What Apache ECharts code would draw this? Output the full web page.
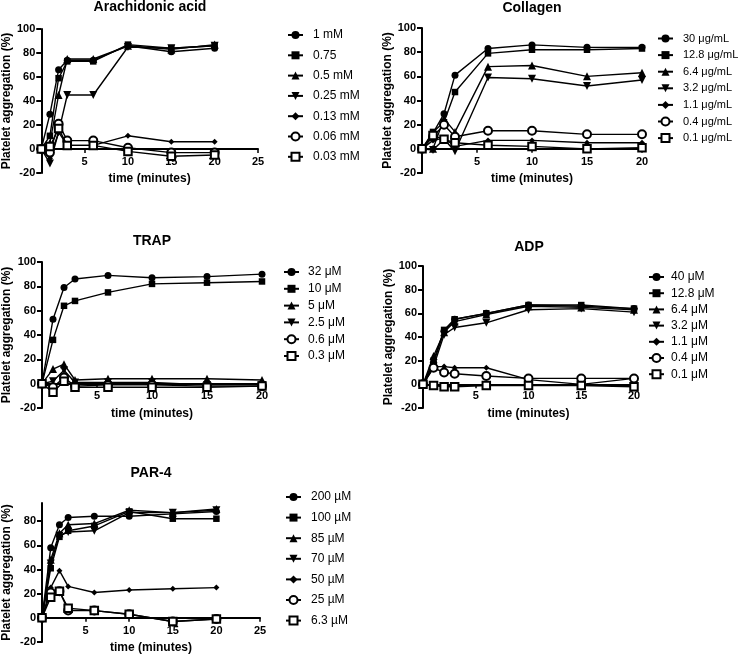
<!DOCTYPE html>
<html><head><meta charset="utf-8">
<script src="https://cdn.jsdelivr.net/npm/echarts@6/dist/echarts.min.js"></script>
<style>html,body{margin:0;padding:0;background:#fff}#c{width:739px;height:655px}</style>
</head><body><div id="c"></div>
<script>
// ---- data ----
const times = [0, 1, 2, 3, 6, 10, 15, 20];

const aaNames = ['1 mM', '0.75', '0.5 mM', '0.25 mM', '0.13 mM', '0.06 mM', '0.03 mM'];
const aaValues = [
  [0, 29, 66, 74, 74, 86, 81, 84],
  [0, 11, 59, 73, 73, 87, 84, 86],
  [0, 5, 45, 75, 75, 86, 83, 87],
  [0, -12, 14, 45, 45, 85, 84, 86],
  [0, -8, 14, 3, 3, 11, 6, 6],
  [0, -3, 21, 7, 7, 1, -3, -3],
  [0, 2, 17, 3, 3, -2, -6, -5]
];

const colNames = ['30 \u03bcg/mL', '12.8 \u03bcg/mL', '6.4 \u03bcg/mL', '3.2 \u03bcg/mL', '1.1 \u03bcg/mL', '0.4 \u03bcg/mL', '0.1 \u03bcg/mL'];
const colValues = [
  [0, 13, 29, 61, 83, 86, 84, 84],
  [0, 14, 22, 47, 79, 82, 82, 83],
  [0, 0, 25, 14, 68, 69, 60, 63],
  [0, -1, 8, -2, 59, 58, 52, 57],
  [0, 7, 9, 2, 7, 7, 5, 5],
  [0, 10, 20, 10, 15, 15, 12, 12],
  [0, 11, 8, 5, 3, 2, 0, 1]
];

const trapNames = ['32 \u03bcM', '10 \u03bcM', '5 \u03bcM', '2.5 \u03bcM', '0.6 \u03bcM', '0.3 \u03bcM'];
const trapValues = [
  [0, 53, 79, 86, 89, 87, 88, 90],
  [0, 36, 64, 68, 75, 82, 83, 84],
  [0, 12, 16, 3, 4, 4, 4, 3],
  [0, 2, 11, 1, 1, 1, -1, -1],
  [0, -3, 5, -2, -1, -1, -2, -2],
  [0, -7, 2, -3, -3, -3, -3, -2]
];

const adpNames = ['40 \u03bcM', '12.8 \u03bcM', '6.4 \u03bcM', '3.2 \u03bcM', '1.1 \u03bcM', '0.4 \u03bcM', '0.1 \u03bcM'];
const adpValues = [
  [0, 18, 45, 55, 60, 67, 66, 64],
  [0, 20, 46, 55, 60, 67, 67, 64],
  [0, 24, 44, 53, 59, 66, 65, 63],
  [0, 15, 42, 48, 52, 63, 64, 61],
  [0, 15, 15, 14, 14, 4, 0, 5],
  [0, 14, 10, 9, 7, 5, 5, 5],
  [0, -1, -2, -2, -1, -1, -1, -2]
];

const parNames = ['200 \u00b5M', '100 \u00b5M', '85 \u00b5M', '70 \u00b5M', '50 \u00b5M', '25 \u00b5M', '6.3 \u00b5M'];
const parValues = [
  [0, 58, 77, 83, 84, 84, 86, 88],
  [0, 41, 67, 72, 76, 88, 82, 82],
  [0, 48, 70, 77, 78, 89, 87, 90],
  [0, 45, 68, 71, 72, 87, 87, 89],
  [0, 25, 39, 26, 21, 23, 24, 25],
  [0, 21, 22, 6, 6, 3, -3, -1],
  [0, 17, 22, 8, 6, 3, -3, -1]
];

const panelTitles = ['Arachidonic acid', 'Collagen', 'TRAP', 'ADP', 'PAR-4'];
const xMaxes = [25, 20, 20, 20, 25];
const yLabelValues = [-20, 0, 20, 40, 60, 80, 100];
const yLabelValuesPar = [-20, 0, 20, 40, 60, 80];

// ---- styles ----
const FONT = 'Liberation Sans, Arial, sans-serif';
const SYM = [
  {s: 'circle', r: 0, z: 7},
  {s: 'rect', r: 0, z: 6.5},
  {s: 'triangle', r: 0, z: 8},
  {s: 'triangle', r: 180, z: 8},
  {s: 'diamond', r: 0, z: 6},
  {s: 'emptyCircle', r: 0, z: 8},
  {s: 'emptyRect', r: 0, z: 7.5}
];

const panels = [
  {names: aaNames, vals: aaValues, sym: [0,1,2,3,4,5,6],
   grid: {left: 41, top: 29, width: 217, height: 144}, ymax: 100, ylab: yLabelValues,
   title: {x: 150, y: 0}, nameGap: 26, zeroOff: 24,
   legend: {left: 287, top: 29, gap: 8.3, font: 12, pad: 5}},
  {names: colNames, vals: colValues, sym: [0,1,2,3,4,5,6],
   grid: {left: 422, top: 28, width: 220, height: 145}, ymax: 100, ylab: yLabelValues,
   title: {x: 532, y: 1}, nameGap: 25, zeroOff: 24,
   legend: {left: 657, top: 33, gap: 5.6, font: 11, pad: 5}},
  {names: trapNames, vals: trapValues, sym: [0,1,2,3,5,6],
   grid: {left: 42, top: 262, width: 220, height: 146}, ymax: 100, ylab: yLabelValues,
   title: {x: 152, y: 234}, nameGap: 29, zeroOff: 25,
   legend: {left: 283, top: 266, gap: 4.8, font: 12, pad: 4}},
  {names: adpNames, vals: adpValues, sym: [0,1,2,3,4,5,6],
   grid: {left: 423, top: 266, width: 211, height: 142}, ymax: 100, ylab: yLabelValues,
   title: {x: 529, y: 240}, nameGap: 24, zeroOff: 25,
   legend: {left: 648, top: 271, gap: 4.2, font: 12, pad: 2}},
  {names: parNames, vals: parValues, sym: [0,1,2,3,4,5,6],
   grid: {left: 42, top: 503, width: 218, height: 140}, ymax: 95, ylab: yLabelValuesPar,
   title: {x: 151, y: 466}, nameGap: 29, zeroOff: 24,
   legend: {left: 285, top: 491, gap: 8.6, font: 12, pad: 5}}
];

const option = {
  animation: false,
  backgroundColor: '#fff',
  textStyle: {fontFamily: FONT},
  title: [], grid: [], xAxis: [], yAxis: [], legend: [], series: []
};

panels.forEach((p, i) => {
  option.title.push({
    text: panelTitles[i], left: p.title.x, top: p.title.y, textAlign: 'center', padding: 0,
    textStyle: {fontFamily: FONT, fontSize: 14, fontWeight: 'bold', color: '#000'}
  });
  option.grid.push(Object.assign({containLabel: false}, p.grid));
  option.xAxis.push({
    type: 'value', gridIndex: i, min: 0, max: xMaxes[i], interval: 5,
    name: 'time (minutes)', nameLocation: 'middle', nameGap: 0,
    nameTextStyle: {fontFamily: FONT, fontSize: 12, fontWeight: 'bold', color: '#000'},
    axisLine: {onZero: true, lineStyle: {color: '#000', width: 2}},
    axisTick: {show: true, length: 4, lineStyle: {color: '#000', width: 1.5}},
    axisLabel: {showMinLabel: false, margin: 7 - p.zeroOff, fontFamily: FONT, fontSize: 11, fontWeight: 'bold', color: '#000'},
    splitLine: {show: false}
  });
  option.yAxis.push({
    type: 'value', gridIndex: i, min: -20, max: p.ymax, interval: 20,
    name: 'Platelet aggregation (%)', nameLocation: 'middle', nameGap: p.nameGap,
    nameTextStyle: {fontFamily: FONT, fontSize: 12, fontWeight: 'bold', color: '#000'},
    axisLine: {show: true, onZero: false, lineStyle: {color: '#000', width: 2}},
    axisTick: {show: true, length: 5, customValues: p.ylab, lineStyle: {color: '#000', width: 2}},
    axisLabel: {margin: 6, customValues: p.ylab, fontFamily: FONT, fontSize: 11, fontWeight: 'bold', color: '#000'},
    splitLine: {show: false}
  });
  option.legend.push({
    orient: 'vertical', left: p.legend.left, top: p.legend.top, itemGap: p.legend.gap,
    itemWidth: 15, itemHeight: 10, padding: 0, data: p.names.slice(), selectedMode: false,
    textStyle: {fontFamily: FONT, fontSize: p.legend.font, color: '#000', padding: [0, 0, 0, p.legend.pad]}
  });
  p.names.forEach((nm, k) => {
    const st = SYM[p.sym[k]];
    const empty = st.s.indexOf('empty') === 0;
    option.series.push({
      type: 'line', name: nm, xAxisIndex: i, yAxisIndex: i,
      data: times.map((t, j) => [t, p.vals[k][j]]),
      symbol: st.s, symbolRotate: st.r, symbolSize: st.z, showSymbol: true,
      lineStyle: {color: '#000', width: 1.4},
      itemStyle: empty ? {color: '#000', borderColor: '#000', borderWidth: 1.6} : {color: '#000', borderWidth: 0},
      emphasis: {disabled: true},
      z: 2 + k
    });
  });
});

const chart = echarts.init(document.getElementById('c'), null, {renderer: 'canvas'});
chart.setOption(option);
</script>
</body></html>
